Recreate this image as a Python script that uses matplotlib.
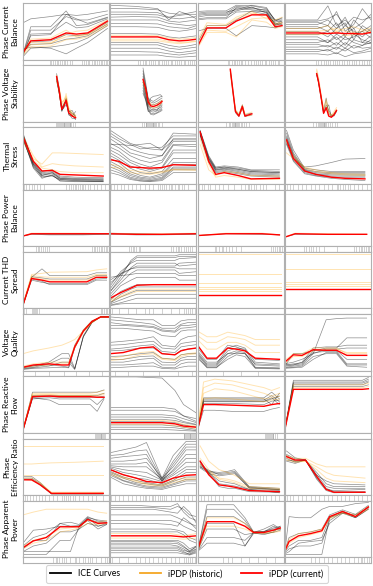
import matplotlib
matplotlib.use("Agg")
import matplotlib.pyplot as plt
from matplotlib.lines import Line2D

plt.rcParams['font.family'] = ['Lato', 'DejaVu Sans']

# ---------------- data (x and y in feature / output units) -------------
feature_labels = ["Phase Current\nBalance", "Phase Voltage\nStability", "Thermal\nStress",
                  "Phase Power\nBalance", "Current THD\nSpread", "Voltage\nQuality",
                  "Phase Reactive\nFlow", "Phase\nEfficiency Ratio", "Phase Apparent\nPower"]
legend_labels = ["ICE Curves", "iPDP (historic)", "iPDP (current)"]

# Row 1: Phase Current Balance
pcb_x = [[0, 0.09, 0.32, 0.5, 0.62, 0.75, 0.98],
         [0, 0.3, 0.55, 0.68, 0.8, 0.9, 1.0],
         [0, 0.11, 0.33, 0.45, 0.63, 0.8, 0.9, 0.98],
         [0, 0.38, 0.5, 0.6, 0.7, 0.8, 0.9, 1.0]]
pcb_current = [[0.12, 0.33, 0.35, 0.47, 0.45, 0.47, 0.68],
               [0.4, 0.4, 0.4, 0.35, 0.33, 0.34, 0.36],
               [0.23, 0.56, 0.56, 0.68, 0.79, 0.79, 0.58, 0.6],
               [0.47, 0.47, 0.46, 0.47, 0.46, 0.46, 0.45, 0.48]]
pcb_historic = [[[0.15, 0.3, 0.3, 0.4, 0.42, 0.45, 0.65], [0.1, 0.26, 0.28, 0.45, 0.5, 0.52, 0.7],
                 [0.12, 0.36, 0.38, 0.52, 0.4, 0.44, 0.62], [0.08, 0.22, 0.24, 0.35, 0.36, 0.4, 0.6]],
                [[0.36, 0.36, 0.36, 0.32, 0.3, 0.31, 0.33], [0.43, 0.43, 0.42, 0.38, 0.36, 0.37, 0.39],
                 [0.33, 0.33, 0.33, 0.3, 0.28, 0.3, 0.32]],
                [[0.3, 0.6, 0.6, 0.72, 0.82, 0.78, 0.62, 0.64], [0.2, 0.48, 0.48, 0.4, 0.7, 0.66, 0.55, 0.58],
                 [0.35, 0.65, 0.62, 0.75, 0.85, 0.72, 0.7, 0.75], [0.25, 0.52, 0.5, 0.58, 0.72, 0.74, 0.64, 0.66]],
                [[0.5, 0.5, 0.52, 0.55, 0.5, 0.48, 0.5, 0.52], [0.44, 0.44, 0.45, 0.5, 0.42, 0.44, 0.46, 0.5],
                 [0.55, 0.55, 0.6, 0.5, 0.55, 0.58, 0.52, 0.56]]]
pcb_ice = [[[0.1, 0.58, 0.58, 0.86, 0.6, 0.62, 0.74], [0.08, 0.52, 0.52, 0.76, 0.7, 0.7, 0.8],
            [0.05, 0.45, 0.46, 0.66, 0.56, 0.58, 0.72], [0.1, 0.42, 0.44, 0.8, 0.72, 0.64, 0.75],
            [0.12, 0.31, 0.33, 0.44, 0.42, 0.45, 0.66], [0.14, 0.27, 0.28, 0.36, 0.38, 0.42, 0.63],
            [0.05, 0.2, 0.22, 0.26, 0.3, 0.38, 0.6], [0.18, 0.22, 0.2, 0.1, 0.2, 0.3, 0.55],
            [0.65, 0.72, 0.76, 0.8, 0.78, 0.8, 0.86]],
           [[0.96, 0.94, 0.9, 0.7, 0.85, 0.8, 0.72], [0.9, 0.9, 0.88, 0.82, 0.8, 0.82, 0.85],
            [0.84, 0.84, 0.83, 0.75, 0.78, 0.8, 0.8], [0.8, 0.8, 0.79, 0.74, 0.72, 0.74, 0.76],
            [0.75, 0.76, 0.75, 0.68, 0.66, 0.68, 0.7], [0.7, 0.7, 0.7, 0.64, 0.62, 0.6, 0.62],
            [0.64, 0.64, 0.63, 0.58, 0.56, 0.55, 0.6], [0.58, 0.58, 0.57, 0.52, 0.5, 0.52, 0.55],
            [0.46, 0.46, 0.45, 0.4, 0.38, 0.4, 0.42], [0.3, 0.3, 0.3, 0.25, 0.22, 0.24, 0.27],
            [0.26, 0.26, 0.26, 0.2, 0.18, 0.2, 0.22], [0.2, 0.2, 0.2, 0.15, 0.12, 0.14, 0.16],
            [0.14, 0.14, 0.13, 0.1, 0.08, 0.1, 0.12], [0.08, 0.08, 0.08, 0.05, 0.04, 0.05, 0.06]],
           [[0.85, 0.86, 0.86, 0.96, 0.95, 0.9, 0.7, 0.72], [0.8, 0.82, 0.82, 0.94, 0.92, 0.86, 0.66, 0.7],
            [0.78, 0.8, 0.8, 0.9, 0.88, 0.84, 0.62, 0.68], [0.75, 0.78, 0.78, 0.86, 0.93, 0.82, 0.6, 0.65],
            [0.72, 0.74, 0.74, 0.92, 0.9, 0.88, 0.7, 0.66], [0.7, 0.72, 0.72, 0.84, 0.85, 0.8, 0.64, 0.62],
            [0.82, 0.84, 0.84, 0.88, 0.96, 0.92, 0.68, 0.74], [0.3, 0.6, 0.6, 0.7, 0.86, 0.84, 0.62, 0.63],
            [0.5, 0.55, 0.55, 0.42, 0.6, 0.58, 0.56, 0.6]],
           [[0.7, 0.7, 0.95, 0.6, 0.7, 0.55, 0.65, 0.8], [0.66, 0.66, 0.6, 0.85, 0.5, 0.62, 0.9, 0.7],
            [0.62, 0.62, 0.7, 0.55, 0.75, 0.45, 0.5, 0.6], [0.58, 0.58, 0.5, 0.65, 0.4, 0.7, 0.55, 0.45],
            [0.55, 0.55, 0.6, 0.45, 0.6, 0.5, 0.4, 0.55], [0.5, 0.5, 0.4, 0.55, 0.65, 0.35, 0.6, 0.5],
            [0.44, 0.44, 0.5, 0.35, 0.45, 0.55, 0.3, 0.42], [0.4, 0.4, 0.3, 0.45, 0.35, 0.4, 0.5, 0.38],
            [0.3, 0.3, 0.35, 0.25, 0.4, 0.3, 0.25, 0.35], [0.27, 0.27, 0.22, 0.3, 0.2, 0.35, 0.3, 0.28],
            [0.22, 0.22, 0.25, 0.18, 0.3, 0.2, 0.25, 0.3], [0.18, 0.18, 0.15, 0.22, 0.15, 0.25, 0.2, 0.22],
            [0.14, 0.14, 0.18, 0.1, 0.2, 0.12, 0.15, 0.2], [0.1, 0.1, 0.08, 0.12, 0.05, 0.1, 0.12, 0.15],
            [0.68, 0.68, 0.72, 0.8, 0.6, 0.75, 0.7, 0.75], [0.35, 0.35, 0.3, 0.4, 0.25, 0.45, 0.35, 0.3]]]
pcb_rug = [[0.31, 0.33, 0.35, 0.37, 0.39, 0.41, 0.43, 0.45, 0.47, 0.49, 0.51, 0.54, 0.57, 0.69, 0.71, 0.73,
            0.75, 0.77, 0.8, 0.82, 0.84, 0.86, 0.88, 0.9, 0.92, 0.94, 0.96, 0.98],
           [0.32, 0.35, 0.38, 0.4, 0.42, 0.45, 0.47, 0.5, 0.52, 0.55, 0.57, 0.6, 0.62, 0.65, 0.67, 0.7,
            0.72, 0.75, 0.77, 0.8, 0.82, 0.85, 0.87, 0.9, 0.92, 0.95, 0.97, 0.99],
           [0.35, 0.37, 0.4, 0.42, 0.44, 0.46, 0.48, 0.5, 0.52, 0.55, 0.58, 0.62, 0.65, 0.68, 0.7, 0.73,
            0.75, 0.78, 0.8, 0.83, 0.85, 0.88, 0.9, 0.93, 0.95],
           [0.36, 0.39, 0.42, 0.45, 0.48, 0.5, 0.53, 0.56, 0.58, 0.6, 0.63, 0.66, 0.69, 0.72, 0.75, 0.78,
            0.8, 0.83, 0.86, 0.89, 0.92, 0.95, 0.98]]

# Row 2: Phase Voltage Stability
pvs_x = [[0.39, 0.42, 0.45, 0.48, 0.5, 0.53, 0.57, 0.61],
         [0.38, 0.41, 0.44, 0.47, 0.5, 0.54, 0.58, 0.6],
         [0.38, 0.41, 0.44, 0.48, 0.52, 0.55, 0.59, 0.63],
         [0.37, 0.39, 0.42, 0.45, 0.48, 0.51, 0.54, 0.57, 0.6]]
pvs_current = [[0.8, 0.55, 0.22, 0.3, 0.38, 0.16, 0.1, 0.07],
               [0.75, 0.6, 0.35, 0.28, 0.27, 0.29, 0.33, 0.36],
               [0.93, 0.55, 0.18, 0.1, 0.27, 0.1, 0.12, 0.14],
               [0.85, 0.72, 0.45, 0.15, 0.25, 0.1, 0.08, 0.12, 0.2]]
pvs_historic = [[[0.75, 0.58, 0.3, 0.4, 0.45, 0.22, 0.14, 0.1], [0.82, 0.5, 0.26, 0.34, 0.42, 0.2, 0.12, 0.09],
                 [0.7, 0.6, 0.35, 0.38, 0.5, 0.25, 0.16, 0.12]],
                [[0.72, 0.58, 0.38, 0.32, 0.3, 0.32, 0.36, 0.38], [0.7, 0.55, 0.32, 0.25, 0.24, 0.26, 0.3, 0.34]],
                [[0.9, 0.58, 0.22, 0.14, 0.3, 0.14, 0.15, 0.17], [0.85, 0.5, 0.2, 0.12, 0.22, 0.12, 0.1, 0.12]],
                [[0.93, 0.8, 0.5, 0.2, 0.35, 0.15, 0.12, 0.15, 0.22], [0.9, 0.7, 0.45, 0.25, 0.4, 0.18, 0.1, 0.18, 0.25]]]
pvs_ice = [[[0.85, 0.6, 0.25, 0.32, 0.42, 0.2, 0.15, 0.1], [0.78, 0.5, 0.2, 0.28, 0.36, 0.14, 0.06, 0.05],
            [0.75, 0.52, 0.18, 0.3, 0.4, 0.12, 0.1, 0.18], [0.8, 0.56, 0.24, 0.34, 0.35, 0.18, 0.2, 0.08],
            [0.72, 0.5, 0.2, 0.26, 0.3, 0.2, 0.12, 0.04]],
           [[0.95, 0.7, 0.42, 0.38, 0.36, 0.4, 0.44, 0.45], [0.9, 0.65, 0.4, 0.35, 0.33, 0.36, 0.4, 0.42],
            [0.85, 0.62, 0.38, 0.3, 0.3, 0.32, 0.36, 0.38], [0.8, 0.55, 0.3, 0.25, 0.24, 0.25, 0.3, 0.33],
            [0.7, 0.5, 0.28, 0.22, 0.2, 0.22, 0.25, 0.28], [0.65, 0.45, 0.25, 0.18, 0.17, 0.19, 0.22, 0.25],
            [0.6, 0.42, 0.22, 0.15, 0.14, 0.16, 0.2, 0.22], [0.55, 0.4, 0.2, 0.13, 0.12, 0.15, 0.18, 0.2],
            [0.5, 0.38, 0.18, 0.2, 0.22, 0.2, 0.28, 0.3], [0.7, 0.52, 0.3, 0.42, 0.45, 0.46, 0.48, 0.45]],
           [[0.92, 0.56, 0.2, 0.12, 0.3, 0.12, 0.14, 0.15], [0.9, 0.52, 0.16, 0.09, 0.24, 0.09, 0.11, 0.12]],
           [[0.82, 0.7, 0.42, 0.18, 0.42, 0.15, 0.1, 0.14, 0.2], [0.86, 0.73, 0.44, 0.14, 0.3, 0.2, 0.12, 0.1, 0.18],
            [0.84, 0.7, 0.46, 0.16, 0.22, 0.3, 0.08, 0.12, 0.19]]]
pvs_rug = [[0.38, 0.4, 0.41, 0.42, 0.43, 0.44, 0.45, 0.46, 0.47, 0.48, 0.49, 0.5, 0.51, 0.52, 0.53, 0.54, 0.55, 0.56, 0.58, 0.6],
           [0.37, 0.39, 0.41, 0.42, 0.43, 0.44, 0.45, 0.46, 0.47, 0.48, 0.49, 0.5, 0.51, 0.52, 0.53, 0.55, 0.57, 0.6],
           [0.33, 0.36, 0.38, 0.4, 0.41, 0.42, 0.43, 0.44, 0.45, 0.46, 0.47, 0.48, 0.5, 0.52, 0.54, 0.56, 0.6],
           [0.33, 0.36, 0.38, 0.4, 0.41, 0.42, 0.43, 0.44, 0.45, 0.46, 0.47, 0.48, 0.5, 0.52, 0.55, 0.58, 0.6]]

# Row 3: Thermal Stress
ts_x = [[0, 0.12, 0.22, 0.34, 0.43, 0.6, 0.93],
        [0, 0.1, 0.23, 0.35, 0.46, 0.6, 0.73, 1.0],
        [0.03, 0.13, 0.21, 0.31, 0.47, 0.62, 0.95],
        [0.02, 0.1, 0.23, 0.36, 0.54, 0.7, 0.93]]
ts_current = [[0.83, 0.4, 0.23, 0.24, 0.17, 0.16, 0.14],
              [0.43, 0.4, 0.3, 0.29, 0.28, 0.29, 0.34, 0.33],
              [0.92, 0.4, 0.17, 0.2, 0.15, 0.09, 0.1],
              [0.78, 0.45, 0.23, 0.17, 0.12, 0.1, 0.09]]
ts_historic = [[[0.8, 0.45, 0.35, 0.55, 0.55, 0.54, 0.52], [0.85, 0.5, 0.3, 0.36, 0.34, 0.32, 0.3],
                [0.75, 0.42, 0.28, 0.25, 0.22, 0.2, 0.2]],
               [[0.35, 0.32, 0.24, 0.22, 0.2, 0.22, 0.26, 0.26], [0.3, 0.28, 0.2, 0.18, 0.17, 0.2, 0.25, 0.24]],
               [[0.8, 0.35, 0.12, 0.15, 0.12, 0.08, 0.08], [0.7, 0.25, 0.15, 0.22, 0.2, 0.15, 0.14]],
               [[0.75, 0.5, 0.28, 0.22, 0.18, 0.16, 0.15], [0.55, 0.45, 0.3, 0.25, 0.2, 0.18, 0.17]]]
ts_ice = [[[0.9, 0.38, 0.18, 0.2, 0.1, 0.09, 0.08], [0.88, 0.35, 0.16, 0.18, 0.08, 0.07, 0.06],
           [0.86, 0.36, 0.2, 0.22, 0.12, 0.1, 0.1], [0.84, 0.32, 0.12, 0.15, 0.06, 0.05, 0.05],
           [0.8, 0.3, 0.14, 0.14, 0.08, 0.06, 0.04], [0.82, 0.28, 0.1, 0.16, 0.05, 0.04, 0.04],
           [0.78, 0.34, 0.15, 0.2, 0.1, 0.08, 0.07], [0.86, 0.4, 0.22, 0.25, 0.14, 0.12, 0.11]],
          [[0.95, 0.85, 0.72, 0.66, 0.62, 0.6, 0.9, 0.88], [0.9, 0.8, 0.7, 0.62, 0.64, 0.65, 0.85, 0.85],
           [0.85, 0.76, 0.62, 0.56, 0.52, 0.5, 0.8, 0.8], [0.8, 0.7, 0.55, 0.5, 0.45, 0.5, 0.75, 0.75],
           [0.72, 0.64, 0.5, 0.42, 0.38, 0.42, 0.7, 0.7], [0.65, 0.58, 0.42, 0.35, 0.3, 0.38, 0.68, 0.66],
           [0.6, 0.52, 0.38, 0.3, 0.25, 0.3, 0.6, 0.6], [0.55, 0.46, 0.32, 0.26, 0.22, 0.28, 0.55, 0.55],
           [0.5, 0.42, 0.28, 0.2, 0.18, 0.22, 0.45, 0.45], [0.45, 0.38, 0.22, 0.15, 0.12, 0.18, 0.38, 0.38],
           [0.4, 0.32, 0.18, 0.12, 0.1, 0.15, 0.35, 0.34], [0.35, 0.28, 0.15, 0.1, 0.08, 0.12, 0.3, 0.3],
           [0.3, 0.24, 0.12, 0.08, 0.06, 0.1, 0.28, 0.28], [0.25, 0.2, 0.1, 0.06, 0.05, 0.08, 0.25, 0.25],
           [0.2, 0.16, 0.08, 0.05, 0.04, 0.06, 0.2, 0.2], [0.7, 0.7, 0.68, 0.7, 0.72, 0.6, 0.78, 0.78]],
          [[0.95, 0.5, 0.3, 0.32, 0.3, 0.25, 0.25], [0.94, 0.48, 0.28, 0.3, 0.28, 0.24, 0.22],
           [0.93, 0.45, 0.26, 0.28, 0.26, 0.22, 0.2], [0.9, 0.44, 0.25, 0.27, 0.24, 0.2, 0.18],
           [0.88, 0.42, 0.24, 0.26, 0.22, 0.18, 0.16], [0.9, 0.4, 0.22, 0.24, 0.2, 0.16, 0.14],
           [0.85, 0.38, 0.2, 0.22, 0.18, 0.14, 0.12], [0.87, 0.46, 0.28, 0.3, 0.26, 0.22, 0.2]],
          [[0.95, 0.6, 0.28, 0.25, 0.22, 0.22, 0.22], [0.9, 0.55, 0.26, 0.22, 0.2, 0.2, 0.2],
           [0.85, 0.52, 0.25, 0.2, 0.18, 0.18, 0.18], [0.82, 0.5, 0.24, 0.18, 0.16, 0.16, 0.16],
           [0.8, 0.48, 0.22, 0.17, 0.14, 0.14, 0.14], [0.75, 0.42, 0.2, 0.15, 0.12, 0.12, 0.12],
           [0.7, 0.4, 0.18, 0.14, 0.1, 0.08, 0.06], [0.72, 0.45, 0.3, 0.32, 0.38, 0.44, 0.45]]]
ts_rug = [[0.01, 0.04, 0.07, 0.1, 0.13, 0.16, 0.2, 0.24, 0.5, 0.53, 0.56, 0.58, 0.6, 0.62, 0.64, 0.66, 0.68, 0.7,
           0.72, 0.75, 0.78, 0.82, 0.86, 0.9, 0.95],
          [0.01, 0.04, 0.08, 0.12, 0.16, 0.2, 0.25, 0.3, 0.35, 0.4, 0.45, 0.5, 0.55, 0.58, 0.6, 0.62, 0.65, 0.68,
           0.7, 0.72, 0.75, 0.78, 0.8, 0.83, 0.86, 0.9],
          [0.02, 0.05, 0.08, 0.12, 0.15, 0.2, 0.25, 0.3, 0.35, 0.42, 0.5, 0.55, 0.58, 0.6, 0.62, 0.65, 0.68, 0.72,
           0.76, 0.8, 0.9, 0.95],
          [0.02, 0.06, 0.1, 0.15, 0.2, 0.25, 0.3, 0.35, 0.4, 0.45, 0.5, 0.55, 0.6, 0.62, 0.64, 0.67, 0.7, 0.73,
           0.76, 0.8, 0.85, 0.9, 0.95]]

# Row 4: Phase Power Balance
ppb_x = [[0, 0.1, 0.3, 0.5, 0.7, 1.0], [0, 0.3, 0.6, 1.0], [0.02, 0.33, 0.75, 0.95], [0.02, 0.12, 0.5, 0.95]]
ppb_current = [[0.18, 0.22, 0.22, 0.22, 0.22, 0.22], [0.22, 0.21, 0.21, 0.22], [0.19, 0.22, 0.22, 0.2],
               [0.17, 0.22, 0.21, 0.21]]
ppb_historic = [[[0.18, 0.23, 0.23, 0.23, 0.23, 0.22]], [[0.23, 0.22, 0.22, 0.23]], [[0.19, 0.23, 0.23, 0.2]],
                [[0.17, 0.23, 0.22, 0.21]]]
ppb_ice = [[[0.18, 0.21, 0.2, 0.2, 0.2, 0.21], [0.18, 0.22, 0.21, 0.21, 0.21, 0.22]],
           [[0.23, 0.22, 0.21, 0.22], [0.21, 0.2, 0.2, 0.21]],
           [[0.19, 0.22, 0.21, 0.2]],
           [[0.17, 0.21, 0.21, 0.21]]]
ppb_rug = [[0.15, 0.17, 0.19, 0.21, 0.23, 0.25, 0.28, 0.3, 0.8, 0.82, 0.84, 0.86, 0.88, 0.9, 0.92, 0.94, 0.96, 0.98],
           [0.22, 0.24, 0.26, 0.28, 0.3, 0.33, 0.35, 0.7, 0.73, 0.76, 0.78, 0.8, 0.82, 0.85, 0.88, 0.9, 0.93, 0.95],
           [0.2, 0.22, 0.25, 0.28, 0.3, 0.33, 0.36, 0.4, 0.45, 0.5, 0.85, 0.88, 0.9, 0.92, 0.94, 0.96, 0.98, 1.0],
           [0.22, 0.25, 0.28, 0.3, 0.33, 0.36, 0.4, 0.45, 0.6, 0.8, 0.83, 0.86, 0.88, 0.9, 0.92, 0.94, 0.96, 0.98]]

# Row 5: Current THD Spread
cts_x = [[0, 0.1, 0.22, 0.31, 0.74, 0.85, 0.97], [0, 0.12, 0.24, 0.31, 0.5, 0.75, 0.8, 1.0], [0, 0.97], [0, 1.0]]
cts_current = [[0.06, 0.53, 0.5, 0.47, 0.47, 0.55, 0.55],
               [0.18, 0.28, 0.36, 0.41, 0.42, 0.42, 0.42, 0.42],
               [0.23, 0.23], [0.35, 0.35]]
cts_historic = [[[0.05, 0.58, 0.56, 0.55, 0.55, 0.6, 0.6], [0.06, 0.55, 0.52, 0.5, 0.5, 0.58, 0.57],
                 [0.08, 0.6, 0.62, 0.64, 0.65, 0.68, 0.7]],
                [[0.15, 0.22, 0.3, 0.34, 0.34, 0.34, 0.34, 0.34], [0.12, 0.2, 0.26, 0.3, 0.3, 0.3, 0.3, 0.3]],
                [[0.38, 0.38], [0.35, 0.35], [0.3, 0.3], [0.61, 0.61], [0.96, 0.96], [0.45, 0.45]],
                [[0.47, 0.47], [0.44, 0.44], [0.7, 0.7], [0.96, 0.96], [0.4, 0.4]]]
cts_ice = [[[0.05, 0.55, 0.7, 0.58, 0.58, 0.63, 0.63], [0.05, 0.52, 0.48, 0.42, 0.42, 0.5, 0.5],
            [0.07, 0.56, 0.54, 0.52, 0.52, 0.58, 0.58], [0.06, 0.5, 0.46, 0.44, 0.44, 0.52, 0.53]],
           [[0.3, 0.55, 0.85, 0.93, 0.93, 0.93, 0.95, 0.95], [0.35, 0.6, 0.82, 0.9, 0.9, 0.9, 0.92, 0.92],
            [0.4, 0.65, 0.8, 0.85, 0.85, 0.85, 0.88, 0.9], [0.3, 0.5, 0.72, 0.8, 0.8, 0.8, 0.75, 0.78],
            [0.45, 0.6, 0.7, 0.75, 0.75, 0.75, 0.8, 0.82], [0.25, 0.45, 0.62, 0.68, 0.68, 0.68, 0.62, 0.65],
            [0.55, 0.58, 0.6, 0.62, 0.62, 0.62, 0.58, 0.58], [0.2, 0.4, 0.5, 0.55, 0.55, 0.55, 0.5, 0.5],
            [0.15, 0.3, 0.38, 0.42, 0.42, 0.42, 0.42, 0.42], [0.1, 0.25, 0.34, 0.38, 0.38, 0.38, 0.38, 0.38],
            [0.1, 0.2, 0.28, 0.32, 0.32, 0.32, 0.32, 0.32], [0.08, 0.15, 0.22, 0.25, 0.25, 0.25, 0.25, 0.25],
            [0.06, 0.1, 0.15, 0.18, 0.18, 0.18, 0.18, 0.18], [0.05, 0.08, 0.09, 0.09, 0.09, 0.09, 0.09, 0.09],
            [0.5, 0.62, 0.7, 0.72, 0.72, 0.72, 0.7, 0.7]],
           [], []]
cts_rug = [[0.01, 0.03, 0.1, 0.12, 0.13, 0.14, 0.15, 0.16, 0.18, 0.9, 0.92, 0.94, 0.96, 0.98],
           [0.02, 0.1, 0.2, 0.3, 0.4, 0.45, 0.5, 0.6, 0.7, 0.8, 0.85, 0.88, 0.9, 0.92, 0.95, 0.98],
           [], []]

# Row 6: Voltage Quality
vq_x = [[0, 0.12, 0.3, 0.45, 0.53, 0.6, 0.7, 0.8, 0.9, 1.0],
        [0, 0.15, 0.35, 0.5, 0.6, 0.75, 0.82, 0.9, 1.0],
        [0, 0.11, 0.22, 0.35, 0.45, 0.55, 0.67, 0.95],
        [0, 0.1, 0.2, 0.33, 0.48, 0.6, 0.72, 0.95]]
vq_current = [[0.06, 0.1, 0.12, 0.1, 0.1, 0.42, 0.7, 0.87, 0.95, 0.95],
              [0.3, 0.32, 0.4, 0.42, 0.3, 0.28, 0.35, 0.38, 0.4],
              [0.45, 0.22, 0.22, 0.4, 0.38, 0.35, 0.22, 0.2],
              [0.15, 0.28, 0.27, 0.37, 0.36, 0.36, 0.27, 0.27]]
vq_historic = [[[0.08, 0.12, 0.15, 0.15, 0.15, 0.45, 0.72, 0.88, 0.95, 0.95],
                [0.05, 0.08, 0.1, 0.12, 0.12, 0.4, 0.68, 0.85, 0.95, 0.95],
                [0.3, 0.35, 0.4, 0.45, 0.5, 0.55, 0.7, 0.85, 0.95, 0.95]],
               [[0.22, 0.25, 0.32, 0.34, 0.22, 0.2, 0.28, 0.3, 0.32], [0.18, 0.2, 0.28, 0.3, 0.2, 0.18, 0.25, 0.28, 0.3]],
               [[0.62, 0.5, 0.5, 0.6, 0.58, 0.55, 0.45, 0.45], [0.55, 0.38, 0.38, 0.5, 0.5, 0.45, 0.32, 0.32],
                [0.7, 0.6, 0.6, 0.68, 0.65, 0.62, 0.55, 0.55]],
               [[0.18, 0.3, 0.3, 0.4, 0.4, 0.4, 0.3, 0.3], [0.12, 0.25, 0.25, 0.35, 0.38, 0.38, 0.32, 0.32]]]
vq_ice = [[[0.05, 0.08, 0.15, 0.3, 0.3, 0.04, 0.6, 0.85, 0.95, 0.95], [0.04, 0.06, 0.12, 0.22, 0.22, 0.03, 0.62, 0.86, 0.95, 0.95],
           [0.03, 0.05, 0.08, 0.15, 0.15, 0.02, 0.6, 0.85, 0.95, 0.95], [0.06, 0.09, 0.1, 0.08, 0.06, 0.45, 0.72, 0.88, 0.95, 0.95],
           [0.02, 0.04, 0.05, 0.06, 0.05, 0.4, 0.7, 0.87, 0.95, 0.95]],
          [[0.95, 0.93, 0.9, 0.9, 0.8, 0.8, 0.88, 0.9, 0.9], [0.9, 0.88, 0.85, 0.82, 0.75, 0.75, 0.82, 0.85, 0.85],
           [0.85, 0.82, 0.8, 0.78, 0.72, 0.7, 0.8, 0.8, 0.82], [0.8, 0.8, 0.78, 0.76, 0.7, 0.68, 0.75, 0.76, 0.78],
           [0.75, 0.75, 0.72, 0.7, 0.62, 0.6, 0.7, 0.72, 0.72], [0.5, 0.52, 0.55, 0.6, 0.45, 0.42, 0.55, 0.6, 0.62],
           [0.45, 0.46, 0.5, 0.52, 0.4, 0.38, 0.48, 0.5, 0.52], [0.38, 0.4, 0.44, 0.46, 0.34, 0.32, 0.42, 0.44, 0.46],
           [0.35, 0.36, 0.4, 0.4, 0.3, 0.28, 0.36, 0.38, 0.4], [0.25, 0.26, 0.3, 0.32, 0.22, 0.2, 0.28, 0.3, 0.3],
           [0.2, 0.2, 0.25, 0.26, 0.15, 0.14, 0.22, 0.25, 0.25], [0.15, 0.15, 0.2, 0.22, 0.1, 0.1, 0.18, 0.2, 0.2],
           [0.1, 0.1, 0.12, 0.14, 0.06, 0.05, 0.12, 0.15, 0.15], [0.05, 0.06, 0.08, 0.08, 0.04, 0.03, 0.06, 0.08, 0.08]],
          [[0.3, 0.1, 0.1, 0.35, 0.4, 0.38, 0.1, 0.08], [0.28, 0.08, 0.08, 0.3, 0.35, 0.32, 0.06, 0.05],
           [0.25, 0.05, 0.05, 0.25, 0.32, 0.3, 0.05, 0.04], [0.32, 0.12, 0.12, 0.4, 0.45, 0.4, 0.15, 0.12],
           [0.4, 0.2, 0.2, 0.45, 0.42, 0.36, 0.2, 0.18], [0.22, 0.06, 0.06, 0.2, 0.28, 0.25, 0.04, 0.03],
           [0.35, 0.15, 0.15, 0.3, 0.3, 0.3, 0.12, 0.1]],
          [[0.12, 0.15, 0.2, 0.3, 0.9, 0.92, 0.93, 0.93], [0.1, 0.1, 0.12, 0.35, 0.4, 0.4, 0.58, 0.58],
           [0.08, 0.1, 0.15, 0.4, 0.42, 0.42, 0.45, 0.45], [0.06, 0.08, 0.1, 0.3, 0.38, 0.38, 0.4, 0.4],
           [0.05, 0.06, 0.08, 0.25, 0.3, 0.3, 0.08, 0.06], [0.04, 0.05, 0.06, 0.2, 0.32, 0.32, 0.1, 0.1],
           [0.1, 0.12, 0.14, 0.32, 0.34, 0.34, 0.12, 0.12], [0.08, 0.3, 0.3, 0.36, 0.36, 0.36, 0.2, 0.2]]]
vq_rug = [[0.14, 0.3, 0.47, 0.62, 0.77, 0.92], [0.05, 0.2, 0.38, 0.57, 0.78, 0.95], [0.1, 0.3, 0.5, 0.7], []]

# Row 7: Phase Reactive Flow
prf_x = [[0, 0.11, 0.31, 0.42, 0.78, 0.86, 0.94], [0, 0.3, 0.6, 0.75, 0.85, 1.0],
         [0, 0.07, 0.2, 0.4, 0.77, 0.86, 0.95], [0, 0.1, 0.9, 0.97]]
prf_current = [[0.05, 0.64, 0.65, 0.64, 0.64, 0.63, 0.63], [0.18, 0.18, 0.18, 0.16, 0.12, 0.1],
               [0.05, 0.5, 0.5, 0.49, 0.47, 0.5, 0.52], [0.05, 0.77, 0.77, 0.78]]
prf_historic = [[[0.06, 0.68, 0.68, 0.67, 0.67, 0.68, 0.7], [0.05, 0.66, 0.67, 0.66, 0.66, 0.65, 0.68],
                 [0.05, 0.7, 0.7, 0.7, 0.7, 0.72, 0.75]],
                [[0.22, 0.22, 0.22, 0.2, 0.15, 0.12], [0.15, 0.15, 0.15, 0.13, 0.1, 0.08]],
                [[0.06, 0.8, 0.88, 0.85, 0.7, 0.65, 0.7], [0.05, 0.7, 0.78, 0.75, 0.6, 0.62, 0.65],
                 [0.05, 0.6, 0.62, 0.6, 0.55, 0.58, 0.6], [0.05, 0.9, 0.95, 0.92, 0.8, 0.75, 0.8]],
                [[0.05, 0.8, 0.8, 0.82], [0.05, 0.85, 0.85, 0.88]]]
prf_ice = [[[0.05, 0.72, 0.72, 0.72, 0.72, 0.72, 0.76], [0.05, 0.62, 0.58, 0.5, 0.5, 0.38, 0.6],
            [0.05, 0.6, 0.62, 0.6, 0.6, 0.5, 0.62], [0.06, 0.66, 0.66, 0.66, 0.66, 0.66, 0.7],
            [0.04, 0.63, 0.64, 0.63, 0.63, 0.63, 0.65]],
           [[0.99, 0.99, 0.97, 0.75, 0.5, 0.35], [0.45, 0.45, 0.45, 0.42, 0.3, 0.25], [0.4, 0.4, 0.4, 0.38, 0.3, 0.2],
            [0.32, 0.32, 0.32, 0.3, 0.25, 0.18], [0.28, 0.28, 0.28, 0.26, 0.2, 0.15], [0.24, 0.24, 0.24, 0.22, 0.18, 0.14],
            [0.2, 0.2, 0.2, 0.18, 0.14, 0.1], [0.14, 0.14, 0.14, 0.12, 0.1, 0.06], [0.1, 0.1, 0.1, 0.09, 0.07, 0.04],
            [0.06, 0.06, 0.06, 0.05, 0.04, 0.03]],
           [[0.05, 0.62, 0.62, 0.62, 0.62, 0.72, 0.6], [0.05, 0.6, 0.6, 0.6, 0.6, 0.5, 0.7],
            [0.05, 0.58, 0.58, 0.58, 0.58, 0.66, 0.55], [0.05, 0.56, 0.56, 0.56, 0.56, 0.62, 0.5],
            [0.05, 0.55, 0.55, 0.55, 0.55, 0.6, 0.65], [0.05, 0.4, 0.4, 0.38, 0.38, 0.42, 0.45],
            [0.05, 0.52, 0.52, 0.52, 0.5, 0.56, 0.58]],
           [[0.05, 0.93, 0.93, 0.98], [0.05, 0.88, 0.88, 0.92], [0.05, 0.85, 0.85, 0.9], [0.05, 0.82, 0.82, 0.85],
            [0.05, 0.9, 0.9, 0.95]]]
prf_rug = [[0.84, 0.85, 0.86, 0.87, 0.88, 0.89, 0.9, 0.91, 0.92, 0.93, 0.94, 0.95],
           [0.85, 0.86, 0.87, 0.88, 0.89, 0.9, 0.91, 0.92, 0.93, 0.94, 0.95, 0.96, 0.97, 0.98],
           [0.78, 0.8, 0.81, 0.82, 0.83, 0.84, 0.85, 0.86, 0.87, 0.88, 0.9, 0.92],
           []]

# Row 8: Phase Efficiency Ratio
per_x = [[0, 0.1, 0.2, 0.33, 0.6, 0.93], [0, 0.15, 0.3, 0.42, 0.6, 0.73, 0.88, 1.0],
         [0.03, 0.13, 0.25, 0.35, 0.43, 0.6, 0.95], [0.02, 0.12, 0.24, 0.37, 0.48, 0.57, 0.93]]
per_current = [[0.27, 0.27, 0.18, 0.03, 0.03, 0.03], [0.45, 0.36, 0.3, 0.24, 0.22, 0.3, 0.35, 0.36],
               [0.6, 0.36, 0.18, 0.16, 0.14, 0.08, 0.06], [0.68, 0.62, 0.62, 0.33, 0.1, 0.05, 0.05]]
per_historic = [[[0.3, 0.3, 0.22, 0.05, 0.05, 0.05], [0.86, 0.86, 0.86, 0.86, 0.86, 0.86],
                 [0.36, 0.36, 0.36, 0.36, 0.36, 0.36], [0.55, 0.55, 0.56, 0.57, 0.58, 0.6],
                 [0.28, 0.26, 0.2, 0.04, 0.04, 0.04]],
                [[0.4, 0.32, 0.26, 0.2, 0.18, 0.26, 0.3, 0.3], [0.36, 0.3, 0.24, 0.18, 0.16, 0.22, 0.27, 0.28]],
                [[0.87, 0.6, 0.45, 0.4, 0.35, 0.2, 0.2], [0.65, 0.45, 0.28, 0.25, 0.22, 0.12, 0.1],
                 [0.55, 0.4, 0.3, 0.28, 0.25, 0.15, 0.12]],
                [[0.7, 0.65, 0.65, 0.55, 0.5, 0.5, 0.5], [0.66, 0.6, 0.6, 0.45, 0.3, 0.25, 0.22],
                 [0.62, 0.58, 0.6, 0.5, 0.4, 0.35, 0.3]]]
per_ice = [[[0.33, 0.33, 0.22, 0.02, 0.02, 0.02], [0.3, 0.3, 0.2, 0.03, 0.03, 0.03], [0.28, 0.28, 0.18, 0.02, 0.02, 0.02]],
           [[0.75, 0.8, 0.85, 0.93, 0.3, 0.7, 0.95, 0.95], [0.7, 0.72, 0.78, 0.8, 0.28, 0.6, 0.9, 0.9],
            [0.65, 0.68, 0.7, 0.72, 0.25, 0.55, 0.85, 0.85], [0.6, 0.6, 0.62, 0.65, 0.3, 0.5, 0.8, 0.8],
            [0.55, 0.55, 0.55, 0.58, 0.25, 0.45, 0.72, 0.72], [0.52, 0.5, 0.5, 0.5, 0.28, 0.42, 0.65, 0.65],
            [0.5, 0.45, 0.42, 0.4, 0.26, 0.38, 0.58, 0.58], [0.48, 0.4, 0.36, 0.32, 0.24, 0.35, 0.5, 0.5],
            [0.45, 0.36, 0.3, 0.28, 0.2, 0.3, 0.45, 0.45], [0.42, 0.32, 0.26, 0.22, 0.18, 0.26, 0.4, 0.4],
            [0.4, 0.3, 0.22, 0.2, 0.16, 0.24, 0.32, 0.32], [0.38, 0.26, 0.2, 0.16, 0.14, 0.2, 0.28, 0.28],
            [0.35, 0.25, 0.18, 0.14, 0.12, 0.18, 0.25, 0.25], [0.32, 0.2, 0.15, 0.12, 0.1, 0.15, 0.2, 0.2]],
           [[0.5, 0.42, 0.4, 0.42, 0.45, 0.15, 0.12], [0.5, 0.4, 0.38, 0.4, 0.42, 0.14, 0.1],
            [0.52, 0.44, 0.36, 0.38, 0.4, 0.12, 0.1], [0.48, 0.38, 0.34, 0.36, 0.38, 0.13, 0.09],
            [0.55, 0.4, 0.2, 0.18, 0.16, 0.1, 0.08], [0.58, 0.38, 0.15, 0.12, 0.12, 0.06, 0.05],
            [0.6, 0.4, 0.25, 0.22, 0.2, 0.1, 0.04]],
           [[0.78, 0.66, 0.62, 0.4, 0.2, 0.15, 0.15], [0.72, 0.64, 0.62, 0.36, 0.15, 0.12, 0.12],
            [0.7, 0.6, 0.62, 0.3, 0.1, 0.08, 0.1], [0.65, 0.58, 0.62, 0.28, 0.08, 0.04, 0.05],
            [0.62, 0.6, 0.62, 0.35, 0.25, 0.2, 0.18], [0.6, 0.56, 0.62, 0.32, 0.12, 0.06, 0.06]]]
per_rug = [[0.02, 0.05, 0.08, 0.12, 0.15, 0.18, 0.22, 0.25, 0.3, 0.35, 0.4, 0.45, 0.48, 0.5, 0.52, 0.55, 0.58,
            0.6, 0.65, 0.7, 0.75, 0.8, 0.85, 0.93],
           [0.01, 0.05, 0.1, 0.15, 0.2, 0.25, 0.3, 0.35, 0.38, 0.4, 0.42, 0.45, 0.48, 0.5, 0.52, 0.55, 0.58,
            0.6, 0.62, 0.65, 0.7, 0.75, 0.8, 0.85, 0.9, 0.95],
           [0.01, 0.04, 0.08, 0.12, 0.16, 0.2, 0.25, 0.3, 0.4, 0.5, 0.55, 0.6, 0.63, 0.66, 0.7, 0.73, 0.76,
            0.8, 0.85, 0.9, 0.95],
           [0.02, 0.06, 0.1, 0.15, 0.2, 0.25, 0.3, 0.35, 0.4, 0.45, 0.5, 0.55, 0.6, 0.65, 0.7, 0.75, 0.8,
            0.85, 0.9, 0.95]]

# Row 9: Phase Apparent Power
pap_x = [[0, 0.12, 0.27, 0.43, 0.55, 0.65, 0.75, 0.87, 0.97], [0, 0.3, 0.5, 0.7, 0.78, 0.85, 0.92, 1.0],
         [0, 0.11, 0.3, 0.42, 0.55, 0.65, 0.77, 0.88, 0.96], [0, 0.05, 0.16, 0.3, 0.43, 0.52, 0.67, 0.82, 0.97]]
pap_current = [[0.17, 0.29, 0.35, 0.54, 0.54, 0.54, 0.67, 0.6, 0.61],
               [0.38, 0.38, 0.38, 0.38, 0.37, 0.36, 0.37, 0.38],
               [0.13, 0.63, 0.63, 0.63, 0.55, 0.44, 0.44, 0.48, 0.52],
               [0.11, 0.28, 0.38, 0.42, 0.47, 0.72, 0.81, 0.72, 0.89]]
pap_historic = [[[0.2, 0.3, 0.36, 0.5, 0.52, 0.55, 0.65, 0.62, 0.65], [0.15, 0.25, 0.3, 0.45, 0.48, 0.52, 0.6, 0.58, 0.6],
                 [0.75, 0.8, 0.85, 0.85, 0.85, 0.85, 0.85, 0.8, 0.78]],
                [[0.42, 0.42, 0.42, 0.42, 0.4, 0.38, 0.4, 0.42], [0.34, 0.34, 0.34, 0.34, 0.33, 0.32, 0.33, 0.34]],
                [[0.12, 0.7, 0.7, 0.7, 0.6, 0.45, 0.44, 0.45, 0.5], [0.1, 0.55, 0.55, 0.55, 0.5, 0.43, 0.42, 0.44, 0.46]],
                [[0.12, 0.32, 0.42, 0.45, 0.5, 0.7, 0.8, 0.75, 0.9], [0.1, 0.25, 0.35, 0.4, 0.45, 0.68, 0.78, 0.72, 0.85]]]
pap_ice = [[[0.05, 0.05, 0.05, 0.3, 0.3, 0.5, 0.7, 0.55, 0.6], [0.25, 0.48, 0.5, 0.55, 0.55, 0.56, 0.68, 0.62, 0.62],
            [0.1, 0.1, 0.1, 0.1, 0.1, 0.55, 0.65, 0.5, 0.58], [0.15, 0.3, 0.3, 0.6, 0.55, 0.55, 0.7, 0.66, 0.64],
            [0.1, 0.2, 0.25, 0.45, 0.45, 0.5, 0.6, 0.55, 0.58], [0.2, 0.35, 0.42, 0.6, 0.62, 0.58, 0.72, 0.64, 0.62]],
           [[0.92, 0.92, 0.9, 0.9, 0.95, 0.8, 0.7, 0.65], [0.88, 0.88, 0.88, 0.85, 0.9, 0.85, 0.75, 0.72],
            [0.85, 0.85, 0.85, 0.8, 0.78, 0.9, 0.8, 0.6], [0.75, 0.75, 0.75, 0.75, 0.7, 0.65, 0.6, 0.55],
            [0.65, 0.65, 0.65, 0.65, 0.62, 0.55, 0.5, 0.45], [0.5, 0.5, 0.5, 0.5, 0.48, 0.45, 0.35, 0.3],
            [0.45, 0.45, 0.45, 0.45, 0.45, 0.4, 0.3, 0.25], [0.3, 0.3, 0.3, 0.3, 0.3, 0.25, 0.15, 0.2],
            [0.28, 0.28, 0.28, 0.28, 0.27, 0.2, 0.1, 0.15], [0.25, 0.25, 0.25, 0.25, 0.24, 0.18, 0.12, 0.18],
            [0.22, 0.22, 0.22, 0.22, 0.2, 0.15, 0.08, 0.14], [0.18, 0.18, 0.18, 0.18, 0.18, 0.12, 0.1, 0.2],
            [0.15, 0.15, 0.15, 0.15, 0.15, 0.1, 0.05, 0.1], [0.12, 0.12, 0.12, 0.12, 0.12, 0.08, 0.06, 0.12],
            [0.08, 0.08, 0.08, 0.08, 0.08, 0.06, 0.04, 0.08], [0.6, 0.6, 0.6, 0.58, 0.55, 0.7, 0.62, 0.5]],
           [[0.1, 0.93, 0.93, 0.93, 0.7, 0.45, 0.45, 0.52, 0.55], [0.1, 0.85, 0.85, 0.85, 0.65, 0.44, 0.46, 0.5, 0.52],
            [0.1, 0.72, 0.72, 0.72, 0.6, 0.45, 0.44, 0.48, 0.5], [0.1, 0.6, 0.6, 0.6, 0.2, 0.44, 0.45, 0.55, 0.5],
            [0.1, 0.5, 0.5, 0.5, 0.4, 0.43, 0.4, 0.45, 0.55], [0.1, 0.35, 0.35, 0.35, 0.3, 0.44, 0.5, 0.58, 0.5],
            [0.1, 0.25, 0.25, 0.25, 0.2, 0.42, 0.42, 0.44, 0.48]],
           [[0.1, 0.72, 0.7, 0.7, 0.85, 0.9, 0.9, 0.95, 0.97], [0.05, 0.05, 0.05, 0.05, 0.05, 0.7, 0.78, 0.75, 0.88],
            [0.08, 0.15, 0.2, 0.2, 0.25, 0.65, 0.8, 0.7, 0.85], [0.1, 0.2, 0.3, 0.3, 0.35, 0.7, 0.82, 0.72, 0.9],
            [0.12, 0.35, 0.42, 0.45, 0.5, 0.75, 0.84, 0.76, 0.92], [0.06, 0.1, 0.25, 0.28, 0.3, 0.6, 0.78, 0.7, 0.86]]]
pap_rug = [[0.35, 0.38, 0.4, 0.42, 0.45, 0.48, 0.5, 0.55, 0.6, 0.62, 0.65, 0.7, 0.72, 0.75, 0.78, 0.8, 0.85, 0.9, 0.95, 0.98],
           [0.02, 0.1, 0.2, 0.3, 0.35, 0.4, 0.45, 0.5, 0.55, 0.6, 0.65, 0.7, 0.75, 0.8, 0.85, 0.88, 0.9, 0.92, 0.95, 0.98],
           [0.3, 0.35, 0.4, 0.5, 0.6, 0.7, 0.8, 0.9],
           [0.3, 0.35, 0.4, 0.45, 0.5, 0.55, 0.6, 0.65, 0.7, 0.75, 0.8, 0.85, 0.88, 0.9, 0.92, 0.95, 0.98]]

rows = [(pcb_x, pcb_current, pcb_historic, pcb_ice, pcb_rug),
        (pvs_x, pvs_current, pvs_historic, pvs_ice, pvs_rug),
        (ts_x, ts_current, ts_historic, ts_ice, ts_rug),
        (ppb_x, ppb_current, ppb_historic, ppb_ice, ppb_rug),
        (cts_x, cts_current, cts_historic, cts_ice, cts_rug),
        (vq_x, vq_current, vq_historic, vq_ice, vq_rug),
        (prf_x, prf_current, prf_historic, prf_ice, prf_rug),
        (per_x, per_current, per_historic, per_ice, per_rug),
        (pap_x, pap_current, pap_historic, pap_ice, pap_rug)]

# ---------------- figure ----------------
W, H = 373, 586
fig = plt.figure(figsize=(W / 100, H / 100), dpi=100)
gs = fig.add_gridspec(18, 4, height_ratios=[56.5, 5.7] * 9,
                      left=23 / W, right=371 / W, top=1 - 3 / H, bottom=1 - 563 / H,
                      hspace=0, wspace=0.012)

ICE_COL, HIST_COL, CUR_COL = 'black', '#FFA500', '#FF0000'
SPINE_COL = '#b0b0b0'


def style(ax):
    ax.set_xlim(0, 1)
    ax.set_ylim(0, 1)
    ax.set_xticks([])
    ax.set_yticks([])
    for s in ax.spines.values():
        s.set_color(SPINE_COL)
        s.set_linewidth(0.8)


for r, (xs, curs, hists, ices, rugs) in enumerate(rows):
    for c in range(4):
        ax = fig.add_subplot(gs[2 * r, c])
        rax = fig.add_subplot(gs[2 * r + 1, c])
        x = xs[c]
        for curve in ices[c]:
            ax.plot(x, curve, color=ICE_COL, alpha=0.45, lw=0.5)
        for h in hists[c]:
            ax.plot(x, h, color=HIST_COL, alpha=0.3, lw=0.7)
        ax.plot(x, curs[c], color=CUR_COL, lw=1.0)
        style(ax)
        for v in rugs[c]:
            rax.axvline(v, color='#666666', alpha=0.35, lw=0.6)
        style(rax)
        if c == 0:
            pos = ax.get_position()
            fig.text(11 / W, (pos.y0 + pos.y1) / 2, feature_labels[r], rotation=90,
                     ha='center', va='center', multialignment='center',
                     fontsize=6.0, linespacing=1.2)

handles = [Line2D([0], [0], color=ICE_COL, lw=1.3),
           Line2D([0], [0], color='#F5A623', lw=1.3),
           Line2D([0], [0], color=CUR_COL, lw=1.3)]
leg = fig.legend(handles, legend_labels, loc='center', bbox_to_anchor=(187 / W, 1 - 574 / H),
                 ncol=3, fontsize=6.3, frameon=True, handlelength=2.4, columnspacing=2.2,
                 borderpad=0.5, handletextpad=0.8, fancybox=True)
leg.get_frame().set_edgecolor('#cccccc')
leg.get_frame().set_linewidth(0.8)

fig.savefig('out.png', dpi=100)
